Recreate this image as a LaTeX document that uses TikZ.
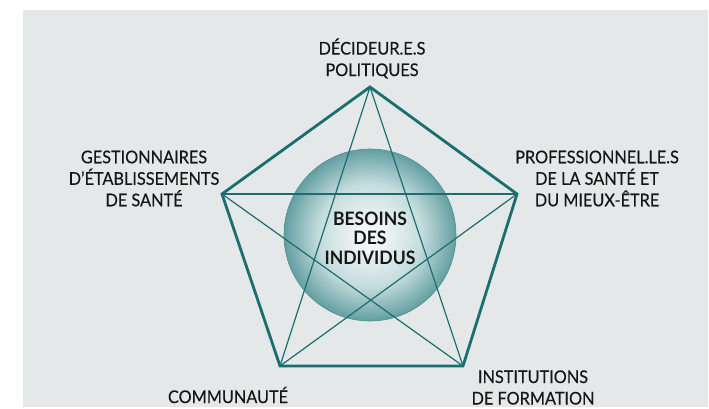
\documentclass[tikz,border=0pt]{standalone}
\usepackage{fontspec}
\setmainfont{Lato}
\newfontfamily\lblfont[FakeStretch=0.93,FakeBold=0.35]{Lato}
\newfontfamily\ctrfont[FakeStretch=0.95]{Lato Bold}
\definecolor{lineteal}{HTML}{1B6E6F}
\definecolor{bgcol}{HTML}{E5E8E9}
\definecolor{sphC}{HTML}{F0F5F5}
\definecolor{sphM}{HTML}{C5DCDD}
\definecolor{sphE}{HTML}{639FA1}
\definecolor{sphO}{HTML}{4E8E90}
\definecolor{txt}{HTML}{161616}
\pgfdeclareradialshading{spheresh}{\pgfpoint{0bp}{0bp}}{color(0bp)=(sphC); color(4bp)=(sphC); color(15bp)=(sphM); color(25bp)=(sphE); color(50bp)=(sphE)}
\begin{document}
\begin{tikzpicture}[x=1pt,y=-1pt,
  lbl/.style={align=center, text=txt, inner sep=0pt, font={\lblfont\fontsize{17.5}{21.5}\selectfont}},
  centerlbl/.style={align=center, text=txt, inner sep=0pt, font={\ctrfont\fontsize{18.5}{19.5}\selectfont}},
  pent/.style={draw=lineteal, line width=2.8pt, line join=miter},
  star/.style={draw=lineteal, line width=1.2pt}]
\useasboundingbox (0,0) rectangle (709,409);
\fill[bgcol] (23,10) rectangle (708,407);
\coordinate (vT) at (370,87);
\coordinate (vL) at (222,194);
\coordinate (vR) at (517,194);
\coordinate (vBL) at (280,366);
\coordinate (vBR) at (463,366);
\coordinate (ctr) at (370,235);
\shade[shading=spheresh] (ctr) circle[radius=86];
\draw[sphO, line width=0.6pt] (ctr) circle[radius=86];
\draw[star] (vT) -- (vBL);
\draw[star] (vT) -- (vBR);
\draw[star] (vL) -- (vR);
\draw[star] (vL) -- (vBR);
\draw[star] (vR) -- (vBL);
\draw[pent] (vT) -- (vR) -- (vBR) -- (vBL) -- (vL) -- cycle;
\node[centerlbl] (need) at (370,238) {BESOINS\\DES\\INDIVIDUS};
\node[lbl] (dec) at (372,58.5) {DÉCIDEUR.E.S\\POLITIQUES};
\node[lbl] (gest) at (144,178.5) {GESTIONNAIRES\\D’ÉTABLISSEMENTS\\DE SANTÉ};
\node[lbl] (prof) at (597,178.5) {PROFESSIONNEL.LE.S\\DE LA SANTÉ ET\\DU MIEUX-ÊTRE};
\node[lbl] (inst) at (533,387.5) {INSTITUTIONS\\DE FORMATION};
\node[lbl] (com) at (228,395) {COMMUNAUTÉ};
\end{tikzpicture}
\end{document}
